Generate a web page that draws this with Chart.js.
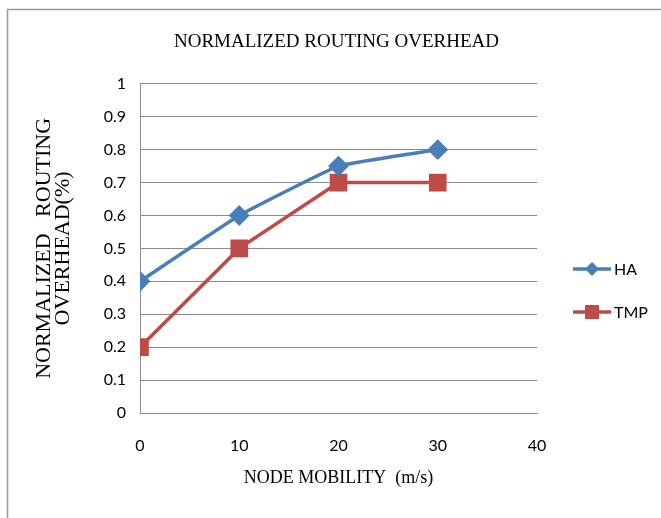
<!DOCTYPE html>
<html>
<head>
<meta charset="utf-8">
<script src="https://cdn.jsdelivr.net/npm/chart.js@4.4.0/dist/chart.umd.min.js"></script>
<style>
  html, body { margin: 0; padding: 0; background: #fff; }
  #wrap { width: 661px; height: 518px; }
</style>
</head>
<body>
<div id="wrap"><canvas id="chart" width="661" height="518"></canvas></div>
<script>
// node mobility (m/s)
var mobility = [0, 10, 20, 30];
var haValues = [0.4, 0.6, 0.75, 0.8];
var tmpValues = [0.2, 0.5, 0.7, 0.7];
var seriesNames = ['HA', 'TMP'];
var xTicks = [0, 10, 20, 30, 40];
var yTicks = [0, 0.1, 0.2, 0.3, 0.4, 0.5, 0.6, 0.7, 0.8, 0.9, 1];

var tickFont = "Lato, 'Liberation Sans', sans-serif";
var serifFont = "'Liberation Serif', 'DejaVu Serif', serif";

function toPoints(xs, ys) {
    var out = [];
    for (var i = 0; i < xs.length; i++) {
        out.push({ x: xs[i], y: ys[i] });
    }
    return out;
}

// grey frame round the whole chart
var framePlugin = {
    id: 'frame',
    afterDraw: function (chart) {
        var ctx = chart.ctx;
        ctx.save();
        ctx.strokeStyle = '#9a9a9a';
        ctx.lineWidth = 1.5;
        ctx.strokeRect(7.5, 9.5, 700, 560);
        ctx.restore();
    }
};

// legend on the right: line with marker, then label
var legendPlugin = {
    id: 'sideLegend',
    afterDraw: function (chart) {
        var ctx = chart.ctx;
        var rows = [269, 312];
        ctx.save();
        chart.data.datasets.forEach(function (ds, i) {
            var y = rows[i];
            ctx.strokeStyle = ds.borderColor;
            ctx.lineWidth = 3.5;
            ctx.beginPath();
            ctx.moveTo(573, y);
            ctx.lineTo(611, y);
            ctx.stroke();
            ctx.fillStyle = ds.backgroundColor;
            if (ds.pointStyle === 'rectRot') {
                ctx.beginPath();
                ctx.moveTo(592, y - 7);
                ctx.lineTo(599, y);
                ctx.lineTo(592, y + 7);
                ctx.lineTo(585, y);
                ctx.closePath();
                ctx.fill();
            } else {
                ctx.fillRect(585, y - 7, 14, 14);
            }
            ctx.fillStyle = '#000';
            ctx.font = "16px " + tickFont;
            ctx.textBaseline = 'middle';
            ctx.textAlign = 'left';
            ctx.fillText(ds.label, 614, y + 1);
        });
        ctx.restore();
    }
};

var ctx = document.getElementById('chart').getContext('2d');
var myChart = new Chart(ctx, {
    type: 'line',
    data: {
        datasets: [{
            label: seriesNames[0],
            data: toPoints(mobility, haValues),
            borderColor: '#4a7ebb',
            backgroundColor: '#4a7ebb',
            borderWidth: 3.5,
            pointStyle: 'rectRot',
            pointRadius: 8,
            pointHoverRadius: 8,
            tension: 0.1
        }, {
            label: seriesNames[1],
            data: toPoints(mobility, tmpValues),
            borderColor: '#be4b48',
            backgroundColor: '#be4b48',
            borderWidth: 3.5,
            pointStyle: 'rect',
            pointRadius: 10,
            pointHoverRadius: 10,
            tension: 0
        }]
    },
    options: {
        responsive: false,
        animation: false,
        layout: {
            padding: { left: 12, right: 0, top: 0, bottom: 0 }
        },
        plugins: {
            legend: { display: false },
            tooltip: { enabled: false },
            title: {
                display: true,
                text: 'NORMALIZED ROUTING OVERHEAD',
                color: '#000',
                font: { family: serifFont, size: 19, weight: 'normal', lineHeight: 1.2 },
                padding: { top: 31, bottom: 30 }
            }
        },
        scales: {
            x: {
                type: 'linear',
                min: 0,
                max: 40,
                afterBuildTicks: function (axis) {
                    axis.ticks = xTicks.map(function (v) { return { value: v }; });
                },
                afterFit: function (axis) { axis.height = 105; },
                grid: { display: false, drawTicks: false },
                border: { display: true, color: '#8c8c8c', width: 1 },
                ticks: {
                    color: '#000',
                    font: { family: tickFont, size: 16 },
                    padding: 23,
                    maxRotation: 0
                },
                title: {
                    display: true,
                    text: 'NODE MOBILITY  (m/s)',
                    color: '#000',
                    font: { family: serifFont, size: 18, lineHeight: 1.2 },
                    padding: { top: 0, bottom: 29 }
                }
            },
            y: {
                min: 0,
                max: 1,
                afterBuildTicks: function (axis) {
                    axis.ticks = yTicks.map(function (v) { return { value: v }; });
                },
                afterFit: function (axis) { axis.width = 128; },
                grid: { color: '#8c8c8c', lineWidth: 1, drawTicks: false },
                border: { display: true, color: '#8c8c8c', width: 1 },
                ticks: {
                    color: '#000',
                    font: { family: tickFont, size: 16 },
                    padding: 14,
                    callback: function (v) { return String(Math.round(v * 10) / 10); }
                },
                title: {
                    display: true,
                    text: ['NORMALIZED   ROUTING', 'OVERHEAD(%)'],
                    color: '#000',
                    font: { family: serifFont, size: 22, lineHeight: 0.84 },
                    padding: { top: 23, bottom: 0 }
                }
            },
            // empty axis on the right, keeps room for the legend
            side: {
                type: 'linear',
                position: 'right',
                min: 0,
                max: 1,
                afterFit: function (axis) { axis.width = 124; },
                grid: { display: false, drawTicks: false },
                border: { display: false },
                ticks: { display: false }
            }
        }
    },
    plugins: [framePlugin, legendPlugin]
});
</script>
</body>
</html>
